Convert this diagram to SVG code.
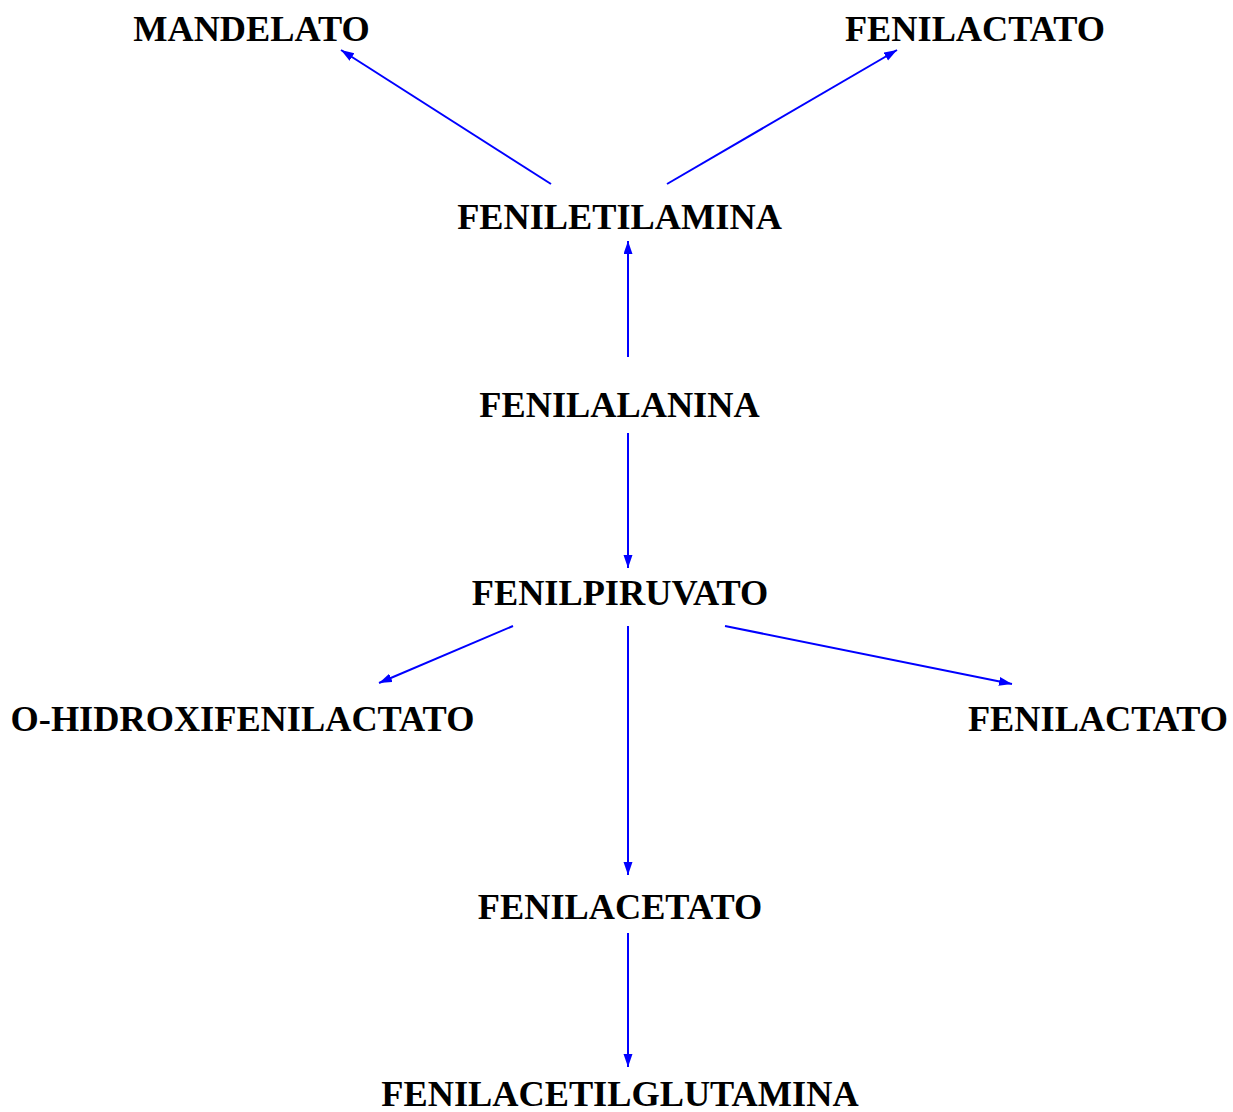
<svg xmlns="http://www.w3.org/2000/svg" width="1233" height="1112" viewBox="0 0 1233 1112">
<style>
.t{font-family:"Liberation Serif","Times New Roman",serif;font-weight:bold;font-size:36.3px;fill:#000;text-anchor:middle}
.c line{stroke:#0000ff;stroke-width:2;marker-end:url(#ah)}
</style>
<defs>
<marker id="ah" markerUnits="userSpaceOnUse" markerWidth="14" markerHeight="10" refX="13" refY="4.5" orient="auto">
<path d="M0,0 L13,4.5 L0,9 z" fill="#0000ff"/>
</marker>
</defs>
<rect width="1233" height="1112" fill="#fff"/>
<g id="connectors" class="c">
<line x1="551" y1="184" x2="341" y2="50"/>
<line x1="667" y1="184" x2="897" y2="50"/>
<line x1="628" y1="357" x2="628" y2="241"/>
<line x1="628" y1="433" x2="628" y2="568"/>
<line x1="513" y1="626" x2="379" y2="683"/>
<line x1="628" y1="626" x2="628" y2="875"/>
<line x1="725" y1="626" x2="1012" y2="684"/>
<line x1="628" y1="933" x2="628" y2="1067"/>
</g>
<g id="mandelato"><text class="t" x="251.5" y="41">MANDELATO</text></g>
<g id="fenilactato-top"><text class="t" x="975" y="41">FENILACTATO</text></g>
<g id="feniletilamina"><text class="t" x="619.5" y="229">FENILETILAMINA</text></g>
<g id="fenilalanina"><text class="t" x="619.5" y="417">FENILALANINA</text></g>
<g id="fenilpiruvato"><text class="t" x="620" y="605">FENILPIRUVATO</text></g>
<g id="o-hidroxifenilactato"><text class="t" x="242.5" y="731">O-HIDROXIFENILACTATO</text></g>
<g id="fenilactato-right"><text class="t" x="1098" y="731">FENILACTATO</text></g>
<g id="fenilacetato"><text class="t" x="620" y="919">FENILACETATO</text></g>
<g id="fenilacetilglutamina"><text class="t" x="620" y="1106">FENILACETILGLUTAMINA</text></g>
</svg>
